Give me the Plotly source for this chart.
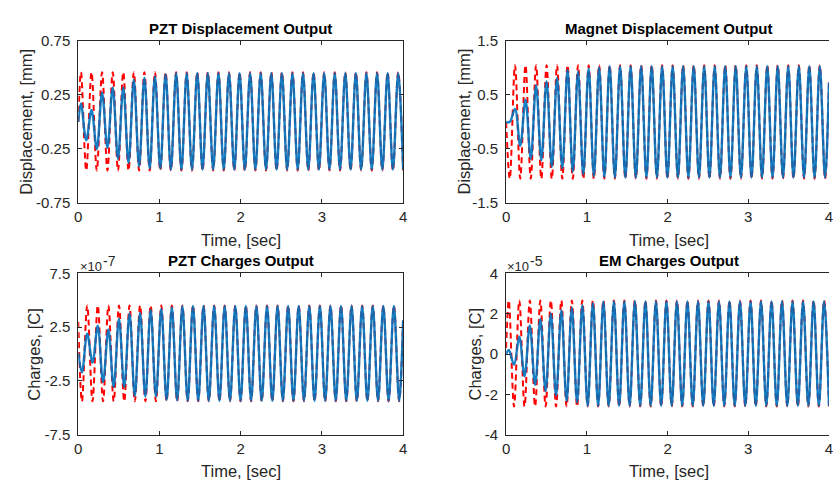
import plotly.graph_objects as go

# ---------------- data ----------------
# times (s) of successive extrema; first = start, last = end of record
t_a = [0.0,
       0.033, 0.098, 0.163, 0.228, 0.293, 0.359, 0.424, 0.489, 0.554, 0.619,
       0.684, 0.749, 0.814, 0.879, 0.944, 1.010, 1.075, 1.140, 1.205, 1.270,
       1.335, 1.400, 1.465, 1.530, 1.595, 1.661, 1.726, 1.791, 1.856, 1.921,
       1.986, 2.051, 2.116, 2.181, 2.246, 2.312, 2.377, 2.442, 2.507, 2.572,
       2.637, 2.702, 2.767, 2.832, 2.897, 2.963, 3.028, 3.093, 3.158, 3.223,
       3.288, 3.353, 3.418, 3.483, 3.548, 3.614, 3.679, 3.744, 3.809, 3.874,
       3.939,
       4.0]
t_b = [0.0,
       0.045, 0.110, 0.175, 0.240, 0.305, 0.371, 0.436, 0.501, 0.566, 0.631,
       0.696, 0.761, 0.826, 0.891, 0.956, 1.022, 1.087, 1.152, 1.217, 1.282,
       1.347, 1.412, 1.477, 1.542, 1.607, 1.673, 1.738, 1.803, 1.868, 1.933,
       1.998, 2.063, 2.128, 2.193, 2.258, 2.324, 2.389, 2.454, 2.519, 2.584,
       2.649, 2.714, 2.779, 2.844, 2.909, 2.975, 3.040, 3.105, 3.170, 3.235,
       3.300, 3.365, 3.430, 3.495, 3.560, 3.626, 3.691, 3.756, 3.821, 3.886,
       3.951,
       4.0]

# PZT displacement [mm]  (times t_a)
pzt_disp_red = [0.0,
    0.46, -0.45, 0.46, -0.45, 0.46, -0.45, 0.46, -0.45, 0.46, -0.45,
    0.46, -0.45, 0.46, -0.45, 0.46, -0.45, 0.46, -0.45, 0.46, -0.45,
    0.46, -0.45, 0.46, -0.45, 0.46, -0.45, 0.46, -0.45, 0.46, -0.45,
    0.46, -0.45, 0.46, -0.45, 0.46, -0.45, 0.46, -0.45, 0.46, -0.45,
    0.46, -0.45, 0.46, -0.45, 0.46, -0.45, 0.46, -0.45, 0.46, -0.45,
    0.46, -0.45, 0.46, -0.45, 0.46, -0.45, 0.46, -0.45, 0.46, -0.45,
    0.46, -0.45]
pzt_disp_blue = [0.0,
    0.17, -0.17, 0.11, -0.25, 0.27, -0.24, 0.32, -0.34, 0.32, -0.38,
    0.39, -0.41, 0.41, -0.43, 0.42, -0.43, 0.44, -0.44, 0.45, -0.44,
    0.45, -0.44, 0.45, -0.44, 0.45, -0.44, 0.45, -0.44, 0.45, -0.44,
    0.45, -0.44, 0.45, -0.44, 0.45, -0.44, 0.45, -0.44, 0.45, -0.44,
    0.45, -0.44, 0.45, -0.44, 0.45, -0.44, 0.45, -0.44, 0.45, -0.44,
    0.45, -0.44, 0.45, -0.44, 0.45, -0.44, 0.45, -0.44, 0.45, -0.44,
    0.45, -0.44]

# Magnet displacement [mm]  (times t_b)
mag_disp_red = [0.0,
    -1.05, 1.05, -1.05, 1.05, -1.05, 1.05, -1.05, 1.05, -1.05, 1.05,
    -1.05, 1.05, -1.05, 1.05, -1.05, 1.05, -1.05, 1.05, -1.05, 1.05,
    -1.05, 1.05, -1.05, 1.05, -1.05, 1.05, -1.05, 1.05, -1.05, 1.05,
    -1.05, 1.05, -1.05, 1.05, -1.05, 1.05, -1.05, 1.05, -1.05, 1.05,
    -1.05, 1.05, -1.05, 1.05, -1.05, 1.05, -1.05, 1.05, -1.05, 1.05,
    -1.05, 1.05, -1.05, 1.05, -1.05, 1.05, -1.05, 1.05, -1.05, 1.05,
    -1.05, 0.75]
mag_disp_blue = [0.0,
    0.0, 0.24, -0.44, 0.41, -0.68, 0.68, -0.71, 0.755, -0.83, 0.815,
    -0.86, 0.96, -0.92, 0.93, -0.97, 0.99, -1.0, 1.01, -1.02, 1.03,
    -1.03, 1.03, -1.03, 1.03, -1.03, 1.03, -1.03, 1.03, -1.03, 1.03,
    -1.03, 1.03, -1.03, 1.03, -1.03, 1.03, -1.03, 1.03, -1.03, 1.03,
    -1.03, 1.03, -1.03, 1.03, -1.03, 1.03, -1.03, 1.03, -1.03, 1.03,
    -1.03, 1.03, -1.03, 1.03, -1.03, 1.03, -1.03, 1.03, -1.03, 1.03,
    -1.03, 0.73]

# PZT charges [x1e-7 C]  (times t_b)
pzt_q_red = [3.0,
    -4.4, 4.52, -4.4, 4.52, -4.4, 4.52, -4.4, 4.52, -4.4, 4.52,
    -4.4, 4.52, -4.4, 4.52, -4.4, 4.52, -4.4, 4.52, -4.4, 4.52,
    -4.4, 4.52, -4.4, 4.52, -4.4, 4.52, -4.4, 4.52, -4.4, 4.52,
    -4.4, 4.52, -4.4, 4.52, -4.4, 4.52, -4.4, 4.52, -4.4, 4.52,
    -4.4, 4.52, -4.4, 4.52, -4.4, 4.52, -4.4, 4.52, -4.4, 4.52,
    -4.4, 4.52, -4.4, 4.52, -4.4, 4.52, -4.4, 4.52, -4.4, 4.52,
    -4.4, 3.2]
pzt_q_blue = [0.1,
    -1.7, 1.9, -0.8, 2.64, -2.6, 2.28, -3.06, 3.3, -3.06, 3.78,
    -3.9, 3.84, -3.96, 4.14, -3.96, 4.23, -4.26, 4.35, -4.3, 4.45,
    -4.35, 4.48, -4.35, 4.48, -4.35, 4.48, -4.35, 4.48, -4.35, 4.48,
    -4.35, 4.48, -4.35, 4.48, -4.35, 4.48, -4.35, 4.48, -4.35, 4.48,
    -4.35, 4.48, -4.35, 4.48, -4.35, 4.48, -4.35, 4.48, -4.35, 4.48,
    -4.35, 4.48, -4.35, 4.48, -4.35, 4.48, -4.35, 4.48, -4.35, 4.48,
    -4.35, 3.15]

# EM charges [x1e-5 C]  (times t_a)
em_q_red = [0.3,
    2.66, -2.6, 2.66, -2.6, 2.66, -2.6, 2.66, -2.6, 2.66, -2.6,
    2.66, -2.6, 2.66, -2.6, 2.66, -2.6, 2.66, -2.6, 2.66, -2.6,
    2.66, -2.6, 2.66, -2.6, 2.66, -2.6, 2.66, -2.6, 2.66, -2.6,
    2.66, -2.6, 2.66, -2.6, 2.66, -2.6, 2.66, -2.6, 2.66, -2.6,
    2.66, -2.6, 2.66, -2.6, 2.66, -2.6, 2.66, -2.6, 2.66, -2.6,
    2.66, -2.6, 2.66, -2.6, 2.66, -2.6, 2.66, -2.6, 2.66, -2.6,
    2.66, -2.6]
em_q_blue = [0.0,
    0.2, -0.53, 0.86, -1.1, 1.42, -1.53, 1.74, -1.85, 2.02, -2.06,
    2.18, -2.33, 2.3, -2.4, 2.42, -2.57, 2.53, -2.57, 2.6, -2.57,
    2.61, -2.57, 2.61, -2.57, 2.61, -2.57, 2.61, -2.57, 2.61, -2.57,
    2.61, -2.57, 2.61, -2.57, 2.61, -2.57, 2.61, -2.57, 2.61, -2.57,
    2.61, -2.57, 2.61, -2.57, 2.61, -2.57, 2.61, -2.57, 2.61, -2.57,
    2.61, -2.57, 2.61, -2.57, 2.61, -2.57, 2.61, -2.57, 2.61, -2.57,
    2.61, -2.57]

x_ticks = [0, 1, 2, 3, 4]
x_tick_text = ["0", "1", "2", "3", "4"]
pzt_disp_ticks = [-0.75, -0.25, 0.25, 0.75]
pzt_disp_tick_text = ["-0.75", "-0.25", "0.25", "0.75"]
mag_disp_ticks = [-1.5, -0.5, 0.5, 1.5]
mag_disp_tick_text = ["-1.5", "-0.5", "0.5", "1.5"]
pzt_q_ticks = [-7.5, -2.5, 2.5, 7.5]
pzt_q_tick_text = ["-7.5", "-2.5", "2.5", "7.5"]
em_q_ticks = [-4, -2, 0, 2, 4]
em_q_tick_text = ["-4", "-2", "0", "2", "4"]

titles = ["PZT Displacement Output", "Magnet Displacement Output",
          "PZT Charges Output", "EM Charges Output"]
y_labels = ["Displacement, [mm]", "Displacement, [mm]", "Charges, [C]", "Charges, [C]"]
x_label = "Time, [sec]"
exp_base = ["", "", "×10", "×10"]
exp_power = ["", "", "-7", "-5"]

# ---------------- figure ----------------
W, H = 833, 489
AX = "#262626"
FONT = "Liberation Sans, Arial, Helvetica, sans-serif"

panels = [
    dict(t=t_a, red=pzt_disp_red, blue=pzt_disp_blue, rng=[-0.75, 0.75],
         tv=pzt_disp_ticks, tt=pzt_disp_tick_text),
    dict(t=t_b, red=mag_disp_red, blue=mag_disp_blue, rng=[-1.5, 1.5],
         tv=mag_disp_ticks, tt=mag_disp_tick_text),
    dict(t=t_b, red=pzt_q_red, blue=pzt_q_blue, rng=[-7.5, 7.5],
         tv=pzt_q_ticks, tt=pzt_q_tick_text),
    dict(t=t_a, red=em_q_red, blue=em_q_blue, rng=[-4, 4],
         tv=em_q_ticks, tt=em_q_tick_text),
]
# plot boxes in pixels: left, right, top, bottom
boxes = [(75, 403, 33, 201), (507, 833, 33, 201),
         (75, 403, 274, 441), (507, 833, 274, 441)]
ylab_x = [22, 464, 30, 476]
exp_x = [0, 0, 76, 507]
right_cut = [False, True, False, True]

fig = go.Figure()
annotations = []
for i, p in enumerate(panels):
    n = "" if i == 0 else str(i + 1)
    x0, x1, y0, y1 = boxes[i]
    fig.add_trace(go.Scatter(
        x=p["t"], y=p["red"], xaxis="x" + n, yaxis="y" + n, mode="lines",
        line=dict(color="#FF0000", width=2, dash="6px,4px", shape="spline"),
        showlegend=False, hoverinfo="skip"))
    fig.add_trace(go.Scatter(
        x=p["t"], y=p["blue"], xaxis="x" + n, yaxis="y" + n, mode="lines",
        line=dict(color="#0072BD", width=2.4, shape="spline"), opacity=0.9,
        showlegend=False, hoverinfo="skip"))
    common = dict(ticks="inside", ticklen=4, tickcolor=AX, tickwidth=1,
                  showline=True, linecolor=AX, linewidth=1,
                  showgrid=False, zeroline=False, fixedrange=True,
                  ticklabeloverflow="allow",
                  tickfont=dict(size=15, color=AX, family=FONT))
    fig.layout["xaxis" + n] = dict(domain=[x0 / W, x1 / W], anchor="y" + n,
                                   range=[0, 4], tickvals=x_ticks, mirror="ticks",
                                   ticktext=x_tick_text, **common)
    fig.layout["yaxis" + n] = dict(domain=[1 - y1 / H, 1 - y0 / H], anchor="x" + n,
                                   range=p["rng"], tickvals=p["tv"],
                                   mirror=(False if right_cut[i] else "ticks"),
                                   ticklabelstandoff=4,
                                   ticktext=p["tt"], **common)
    cx = (x0 + (x0 + 328)) / 2
    annotations.append(dict(text="<b>" + titles[i] + "</b>", x=cx / W, y=1 - (y0 - 13) / H,
                            xref="paper", yref="paper", showarrow=False,
                            xanchor="center", yanchor="middle",
                            font=dict(size=15, color="#000000", family=FONT)))
    annotations.append(dict(text=x_label, x=cx / W, y=1 - (y1 + 38) / H,
                            xref="paper", yref="paper", showarrow=False,
                            xanchor="center", yanchor="middle",
                            font=dict(size=16.5, color=AX, family=FONT)))
    annotations.append(dict(text=y_labels[i], x=ylab_x[i] / W, y=1 - ((y0 + y1) / 2) / H,
                            xref="paper", yref="paper", showarrow=False, textangle=-90,
                            xanchor="center", yanchor="middle",
                            font=dict(size=16.5, color=AX, family=FONT)))
    if exp_base[i]:
        annotations.append(dict(text=exp_base[i], x=exp_x[i] / W, y=1 - (y0 - 7) / H,
                                xref="paper", yref="paper", showarrow=False,
                                xanchor="left", yanchor="middle", borderpad=0,
                                font=dict(size=13, color=AX, family=FONT)))
        annotations.append(dict(text=exp_power[i], x=(exp_x[i] + 23) / W, y=1 - (y0 - 13) / H,
                                xref="paper", yref="paper", showarrow=False,
                                xanchor="left", yanchor="middle", borderpad=0,
                                font=dict(size=14, color=AX, family=FONT)))

fig.update_layout(width=W, height=H, margin=dict(l=0, r=0, t=0, b=0),
                  paper_bgcolor="white", plot_bgcolor="white",
                  annotations=annotations, showlegend=False)

fig.write_html("out.html", config={"displayModeBar": False})
